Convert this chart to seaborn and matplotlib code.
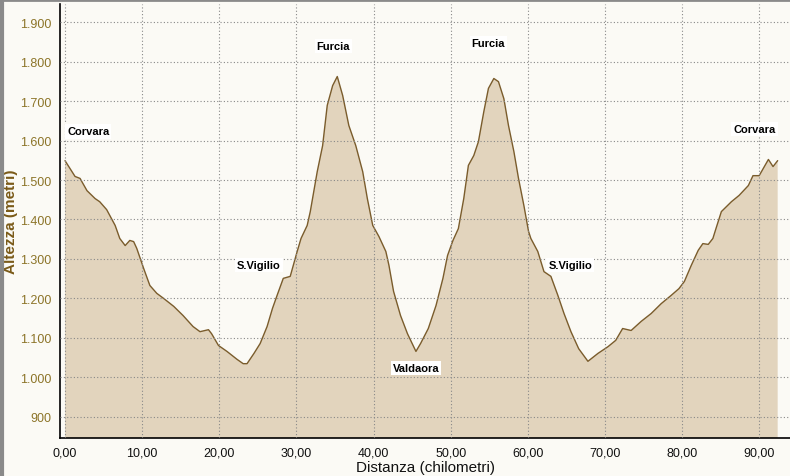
import matplotlib
matplotlib.use('Agg')
import matplotlib.pyplot as plt
from matplotlib.lines import Line2D
import seaborn as sns
import pandas as pd

# Profile (km, metres)
km = [0.0, 1.3, 1.95, 2.85, 3.9, 4.5, 5.4, 6.5, 7.1, 7.8, 8.4, 8.9, 9.3, 10.2,
      11.0, 11.9, 12.8, 14.1, 15.3, 16.6, 17.5, 18.6, 19.0, 19.9, 21.0, 22.3,
      23.1, 23.6, 24.5, 25.3, 26.2, 26.9, 27.5, 28.3, 29.2, 29.6, 30.1, 30.6,
      31.4, 31.8, 32.7, 33.4, 34.0, 34.7, 35.3, 36.0, 36.8, 37.7, 38.6, 39.2,
      39.9, 40.7, 41.6, 42.0, 42.6, 43.5, 44.4, 45.5, 46.1, 47.1, 48.1, 49.0,
      49.6, 50.3, 51.0, 51.7, 52.3, 53.0, 53.6, 54.3, 54.9, 55.6, 56.2, 56.9,
      57.5, 58.2, 58.8, 59.5, 60.1, 60.4, 61.3, 62.1, 63.0, 63.9, 64.7, 65.6,
      66.6, 67.8, 69.1, 70.4, 71.4, 72.3, 73.4, 74.7, 76.0, 77.3, 78.6, 79.6,
      80.3, 81.2, 82.1, 82.7, 83.4, 84.0, 84.4, 85.1, 86.4, 87.4, 88.6, 89.2,
      90.0, 91.2, 91.8, 92.4]
alt = [1549, 1509, 1504, 1473, 1453, 1445, 1425, 1385, 1352, 1334, 1347, 1344,
       1327, 1276, 1233, 1213, 1200, 1180, 1157, 1129, 1116, 1121, 1111, 1081,
       1066, 1046, 1035, 1035, 1061, 1086, 1129, 1175, 1208, 1251, 1256, 1284,
       1319, 1352, 1385, 1420, 1521, 1587, 1689, 1739, 1762, 1714, 1638, 1587,
       1521, 1453, 1385, 1357, 1319, 1284, 1218, 1157, 1111, 1066, 1086, 1124,
       1182, 1251, 1309, 1347, 1377, 1453, 1537, 1562, 1597, 1673, 1732, 1757,
       1749, 1706, 1638, 1572, 1504, 1435, 1370, 1352, 1319, 1268, 1256, 1208,
       1162, 1116, 1073, 1041, 1061, 1078, 1094, 1124, 1119, 1142, 1162, 1187,
       1208, 1225, 1243, 1284, 1322, 1339, 1337, 1352, 1377, 1420, 1445, 1461,
       1486, 1511, 1511, 1552, 1534, 1549]

# Place names and where their labels sit
places = ['Corvara', 'Furcia', 'S.Vigilio', 'Valdaora', 'Furcia', 'S.Vigilio', 'Corvara']
place_km = [3.0, 34.8, 25.1, 45.5, 54.9, 65.5, 89.4]
place_alt = [1623, 1840, 1284, 1025, 1846, 1284, 1630]

x_ticks = [0, 10, 20, 30, 40, 50, 60, 70, 80, 90]
x_labels = ['0,00', '10,00', '20,00', '30,00', '40,00', '50,00', '60,00', '70,00', '80,00', '90,00']
y_ticks = [900, 1000, 1100, 1200, 1300, 1400, 1500, 1600, 1700, 1800, 1900]
y_labels = ['900', '1.000', '1.100', '1.200', '1.300', '1.400', '1.500', '1.600', '1.700', '1.800', '1.900']

df = pd.DataFrame({'km': km, 'alt': alt})

sns.set_style('white')
plt.rcParams['font.family'] = ['Liberation Sans', 'DejaVu Sans']

bg = '#fbfaf5'
fig = plt.figure(figsize=(7.9, 4.77), dpi=100, facecolor=bg)
ax = fig.add_axes([60 / 790, 38 / 477, 730 / 790, 434 / 477])
ax.set_facecolor(bg)

ax.fill_between(df['km'], df['alt'], 0, color='#e2d4bd', lw=0, zorder=1)
sns.lineplot(data=df, x='km', y='alt', ax=ax, color='#7a5c2c', lw=1.0, zorder=2)

ax.set_xlim(-0.65, 94.0)
ax.set_ylim(846.8, 1945.6)
ax.set_xticks(x_ticks)
ax.set_xticklabels(x_labels, fontsize=9)
ax.set_yticks(y_ticks)
ax.set_yticklabels(y_labels, fontsize=9)
ax.tick_params(axis='both', direction='out', length=4, width=1, color='black', pad=2)
ax.tick_params(axis='x', labelcolor='#111111')
ax.tick_params(axis='y', labelcolor='#8c7428')

ax.grid(True, color='#888888', linestyle=(0, (1, 2)), lw=0.8, zorder=3)
ax.set_axisbelow(False)

for side in ['top', 'right']:
    ax.spines[side].set_visible(False)
for side in ['left', 'bottom']:
    ax.spines[side].set_color('black')
    ax.spines[side].set_linewidth(1.2)

ax.set_xlabel('Distanza (chilometri)', fontsize=11, color='#111111', labelpad=1)
ax.set_ylabel('Altezza (metri)', fontsize=11, color='#7a5a18', fontweight='bold', labelpad=2)

for name, x, y in zip(places, place_km, place_alt):
    ax.text(x, y, name, ha='center', va='center', fontsize=8, fontweight='bold',
            color='black', zorder=5,
            bbox=dict(facecolor='white', edgecolor='none', pad=1.5))

# window border, left and top
fig.add_artist(Line2D([0.002, 0.002], [0, 1], color='#8a8a8a', lw=3, transform=fig.transFigure))
fig.add_artist(Line2D([0, 1], [0.998, 0.998], color='#8a8a8a', lw=2, transform=fig.transFigure))

fig.savefig('out.png', dpi=100, facecolor=bg)
